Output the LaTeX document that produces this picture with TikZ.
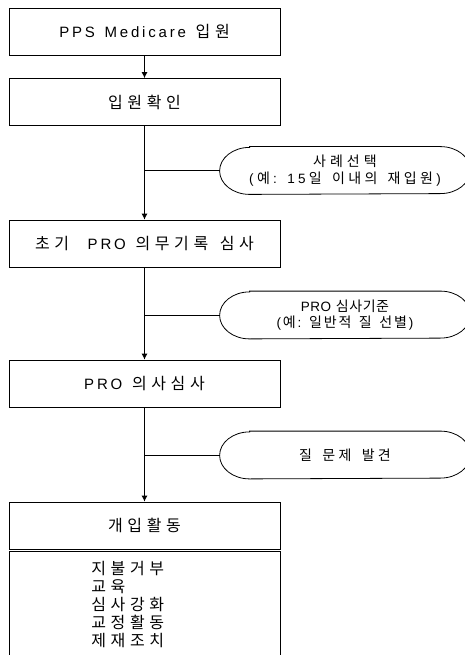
\documentclass[tikz,border=0pt]{standalone}
\usepackage{fontspec}
\setmainfont{Noto Sans CJK KR}
\newfontfamily\lat{Liberation Sans}
\newdimen\hk \newdimen\lk
\def\latsz{14}
\def\tx#1{\txx#1\relax\unkern}
\def\txx#1{\ifx#1\relax\else\ifnum`#1>"2FFF #1\kern\hk\else{\fontsize{\latsz}{\latsz}\lat#1}\kern\lk\fi\expandafter\txx\fi}
\newcommand\bt[1]{\hk=4.6pt\lk=2.8pt\def\latsz{15}\tx{#1}}
\newcommand\ot[2]{\hk=#1pt\lk=#1pt\def\latsz{13.5}\tx{#2}}
\usetikzlibrary{arrows.meta}
\begin{document}
\begin{tikzpicture}[x=1pt,y=-1pt,line width=0.8pt,
  box/.style={draw,minimum width=271pt,minimum height=47pt,inner sep=0pt,font=\fontsize{16}{18}\selectfont},
  oval/.style={minimum width=250pt,minimum height=47pt,inner sep=0pt,align=center,font=\fontsize{14}{16.5}\selectfont},
  arr/.style={-{Latex[length=6pt,width=6pt]}}]
\useasboundingbox (0,0) rectangle (465,655);
\clip (0,0) rectangle (465,655);
\fill[white] (0,0) rectangle (465,655);

\node[box] (b1) at (144.5,31.5) {\bt{PPS~Medicare~입원}};
\node[box] (b2) at (144.5,102) {\bt{입원확인}};
\node[box] (b3) at (144.5,243.5) {\bt{초기~~PRO~의무기록~심사}};
\node[box] (b4) at (144.5,383.5) {\bt{PRO~의사심사}};
\node[box] (b5) at (144.5,525.5) {\bt{개입활동}};
\node[draw,minimum width=271pt,minimum height=119pt,inner sep=0pt,anchor=north] (b6) at (144.5,551) {};
\node[anchor=north west,inner sep=0pt,align=left,font=\fontsize{16}{18}\selectfont] (lst) at (91,560.5)
  {\bt{지불거부}\\\bt{교육}\\\bt{심사강화}\\\bt{교정활동}\\\bt{제재조치}};

\node[oval] (o1) at (345,170.5) {\ot{4}{사례선택}\\\ot{3.3}{(예:~15일~이내의~재입원)}};
\node[oval] (o2) at (345,315) {\ot{0.5}{PRO~심사기준}\\\ot{1.9}{(예:~일반적~질~선별)}};
\node[oval] (o3) at (345,455) {\ot{3.3}{질~문제~발견}};
\foreach \o in {o1,o2,o3}{
  \draw ([xshift=30pt]\o.north west) -- ([xshift=-30pt]\o.north east)
    arc[start angle=90,end angle=-90,x radius=30pt,y radius=23.5pt]
    -- ([xshift=30pt]\o.south west)
    arc[start angle=270,end angle=90,x radius=30pt,y radius=23.5pt] -- cycle;
}

\draw[arr] (b1) -- (b2);
\draw[arr] (b2) -- (b3);
\draw[arr] (b3) -- (b4);
\draw[arr] (b4) -- (b5);
\coordinate (j1) at (b2.south |- o1.west);
\coordinate (j2) at (b3.south |- o2.west);
\coordinate (j3) at (b4.south |- o3.west);
\draw (j1) -- (o1.west);
\draw (j2) -- (o2.west);
\draw (j3) -- (o3.west);
\end{tikzpicture}
\end{document}
